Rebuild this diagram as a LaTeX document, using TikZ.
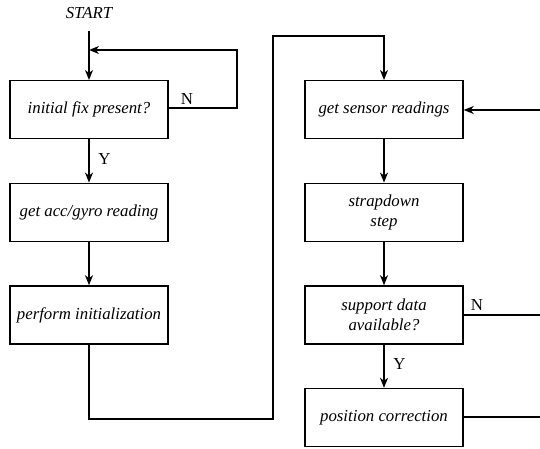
\documentclass[tikz,border=0pt]{standalone}
\usepackage{fontspec}
\setmainfont{Liberation Serif}[ItalicFont={Liberation Serif Italic}]
\usepackage{tikz}
\usetikzlibrary{arrows.meta,positioning}

\begin{document}
\begin{tikzpicture}[
  x=0.5pt, y=-0.5pt,
  font=\fontsize{8.4}{10}\selectfont,
  node distance=21.6pt,
  blk/.style={draw, line width=0.7pt, minimum width=79pt, minimum height=29pt,
    align=center, inner sep=2pt, font=\fontsize{8.4}{10}\selectfont\itshape},
  arr/.style={-{Stealth[length=5pt,width=4pt,inset=1.5pt]}, line width=0.7pt},
  ln/.style={line width=0.7pt}
]
\useasboundingbox (0,0) rectangle (540,449);

% left column
\node[font=\fontsize{8.4}{10}\selectfont\itshape] (start) at (89,13) {START};
\node[blk, anchor=north] (fix) at (89,80) {initial fix present?};
\node[blk, below=of fix] (acc) {get acc/gyro reading};
\node[blk, below=of acc] (init) {perform initialization};

% right column
\node[blk, anchor=north] (sens) at (384,80) {get sensor readings};
\node[blk, below=of sens] (strap) {strapdown\\step};
\node[blk, below=of strap] (avail) {support data\\available?};
\node[blk, below=of avail] (corr) {position correction};

\coordinate (s0) at (89,31);
\coordinate (loop) at (89,50);
\coordinate (inR) at (540,110);
\coordinate (outN) at (540,315);
\coordinate (outC) at (540,417);

\draw[arr] (s0)--(fix);
\draw[arr] (fix.east |- 0,108) -- (237,108) |- (loop);
\node at (187,99) {N};
\draw[arr] (fix)--(acc) node[pos=0.45, right=1pt] {Y};
\draw[arr] (acc)--(init);
\draw[arr] (init.south) |- (273,419) |- (384,36) -- (sens.north);

\draw[arr] (inR) -- (sens.east |- inR);
\draw[arr] (sens)--(strap);
\draw[arr] (strap)--(avail);
\draw[ln] (avail.east |- outN) -- (outN);
\node at (477,305) {N};
\draw[arr] (avail)--(corr) node[pos=0.45, right=1pt] {Y};
\draw[ln] (corr.east |- outC) -- (outC);
\end{tikzpicture}
\end{document}
